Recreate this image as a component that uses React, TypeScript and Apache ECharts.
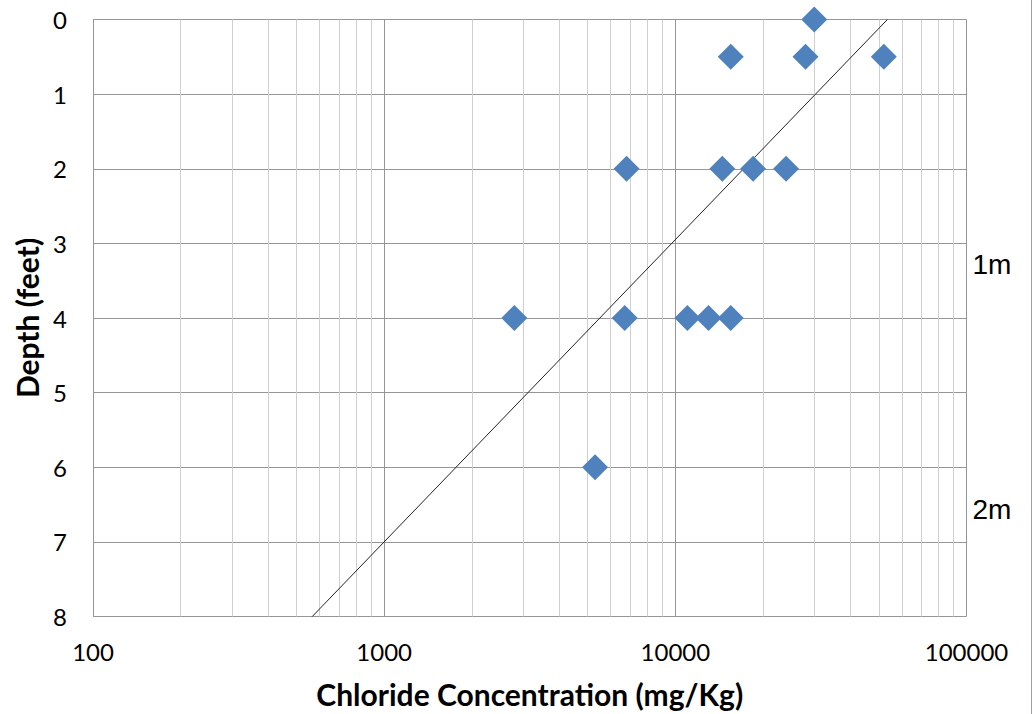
import React, { useEffect, useRef } from "react";
import * as echarts from "echarts";

// Chloride concentration (mg/Kg) vs depth (feet)
const chloride = [30000, 15500, 28000, 52000, 6800, 14500, 18500, 24000, 2800, 6700, 11000, 13000, 15500, 5300];
const depthFt = [0, 0.5, 0.5, 0.5, 2, 2, 2, 2, 4, 4, 4, 4, 4, 6];

// Logarithmic trendline: depth = slope * log10(x) + intercept
const trendSlope = -4.05;
const trendIntercept = 19.15;
const trendDepths = [0, 8];

const xTickLabels = [100, 1000, 10000, 100000];
const minorMultipliers = [2, 3, 4, 5, 6, 7, 8, 9];
const decades = [100, 1000, 10000];

const meterMarks = [1, 2];
const FT_PER_M = 3.28084;

export default function App() {
  const ref = useRef<HTMLDivElement>(null);
  useEffect(() => {
    if (!ref.current) return;
    const chart = echarts.init(ref.current, undefined, { renderer: "svg" });
    const points = chloride.map((c, i) => [c, depthFt[i]]);
    const trend = trendDepths.map((d) => [Math.pow(10, (d - trendIntercept) / trendSlope), d]);
    const minorLines: { xAxis: number }[] = [];
    decades.forEach((d) => minorMultipliers.forEach((m) => minorLines.push({ xAxis: d * m })));
    const xMax = xTickLabels[xTickLabels.length - 1];
    chart.setOption({
      animation: false,
      backgroundColor: "#ffffff",
      grid: { left: 93, top: 19.5, right: 66.5, bottom: 97.5, containLabel: false },
      xAxis: {
        type: "log",
        logBase: 10,
        min: xTickLabels[0],
        max: xMax,
        name: "Chloride Concentration (mg/Kg)",
        nameLocation: "middle",
        nameGap: 62,
        nameTextStyle: { fontFamily: "Lato", fontWeight: "bold", fontSize: 30, color: "#000" },
        axisLine: { show: false },
        axisTick: { show: false },
        axisLabel: {
          fontFamily: "Lato",
          fontSize: 24,
          color: "#000",
          margin: 23,
          formatter: (v: number) => String(Math.round(v)),
        },
        splitLine: { show: true, lineStyle: { color: "#969696", width: 1 } },
      },
      yAxis: {
        type: "value",
        inverse: true,
        min: 0,
        max: 8,
        interval: 1,
        name: "Depth (feet)",
        nameLocation: "middle",
        nameGap: 48,
        nameTextStyle: { fontFamily: "Lato", fontWeight: "bold", fontSize: 30, color: "#000" },
        axisLine: { show: false },
        axisTick: { show: false },
        axisLabel: { fontFamily: "Lato", fontSize: 24, color: "#000", margin: 26 },
        splitLine: { show: true, lineStyle: { color: "#969696", width: 1 } },
      },
      series: [
        {
          type: "line",
          data: [],
          z: 1,
          silent: true,
          markLine: {
            z: 1,
            silent: true,
            symbol: ["none", "none"],
            label: { show: false },
            lineStyle: { type: "solid", color: "#cfcfcf", width: 1 },
            emphasis: { disabled: true },
            data: minorLines,
          },
        },
        {
          type: "line",
          data: trend,
          z: 3,
          showSymbol: false,
          symbol: "none",
          lineStyle: { color: "#222", width: 1 },
          silent: true,
        },
        {
          type: "scatter",
          data: points,
          z: 5,
          symbol: "diamond",
          symbolSize: 26,
          itemStyle: { color: "#4F81BD", opacity: 1 },
        },
        {
          type: "scatter",
          data: meterMarks.map((m) => [xMax, m * FT_PER_M, m]),
          symbolSize: 0,
          clip: false,
          silent: true,
          itemStyle: { opacity: 1 },
          label: {
            show: true,
            position: "right",
            distance: 6,
            formatter: (p: any) => `${p.value[2]}m`,
            fontFamily: "Liberation Sans",
            fontSize: 28,
            color: "#000",
          },
        },
      ],
      graphic: [
        {
          type: "line",
          shape: { x1: 1031.5, y1: 0, x2: 1031.5, y2: 714 },
          style: { stroke: "#a0a0a0", lineWidth: 1 },
          silent: true,
        },
      ],
    });
    return () => chart.dispose();
  }, []);
  return (
    <div
      ref={ref}
      style={{ position: "absolute", left: 0, top: 0, width: 1033, height: 714 }}
    />
  );
}
